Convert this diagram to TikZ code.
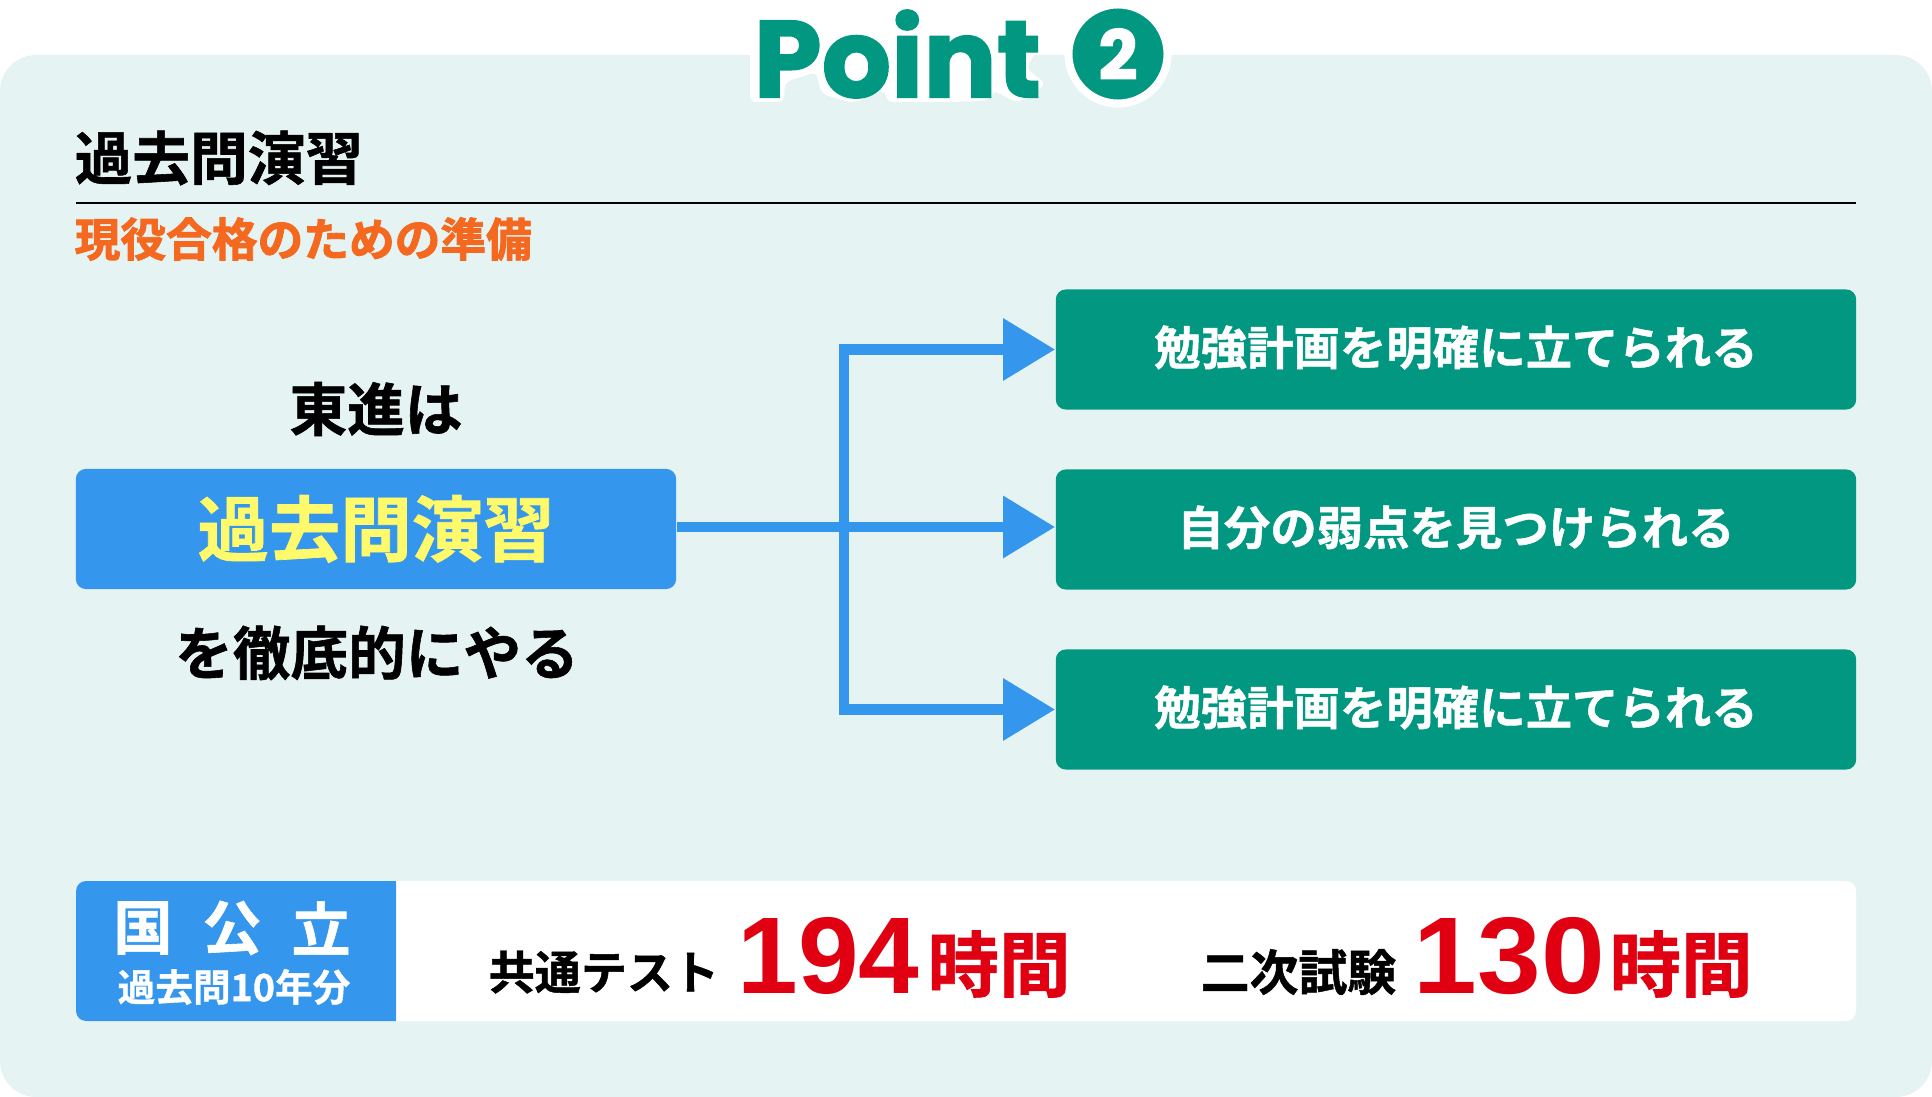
\documentclass[tikz,border=0pt]{standalone}
\usepackage{fontspec}
\usepackage{tikz}
\usetikzlibrary{arrows.meta}
\setmainfont{Noto Sans CJK JP}[BoldFont=* Bold]
\newfontfamily\cjkbold{Noto Sans CJK JP Bold}[FakeBold=1]
\newfontfamily\cjkheavy{Noto Sans CJK JP Bold}[FakeBold=2]
\newfontfamily\numfont{Liberation Sans Bold}
\newfontfamily\pointfont{Poppins Bold}[FakeBold=1.5]
\definecolor{panelbg}{HTML}{E5F4F3}
\definecolor{goalgreen}{HTML}{029780}
\definecolor{lineblue}{HTML}{3496EC}
\definecolor{hourred}{HTML}{E00012}
\definecolor{subjorange}{HTML}{F4691F}
\definecolor{textyellow}{HTML}{FFF96C}
\tikzset{
	goalbox/.style={fill=goalgreen, rounded corners=0.1cm, minimum width=8cm, minimum height=1.2cm, inner sep=0pt, text height=0.5cm, text depth=0.19cm, text=white, font=\cjkbold\fontsize{13.2}{15}\selectfont},
	linkline/.style={draw=lineblue, line width=0.1cm, -{Triangle[length=0.52cm,width=0.6cm]}},
	headtext/.style={inner sep=0pt, font=\cjkbold\fontsize{16.4}{18}\selectfont},
	hournum/.style={inner sep=0pt, text=hourred, font=\numfont\fontsize{31}{33}\selectfont},
	hourunit/.style={inner sep=0pt, text=hourred, font=\cjkbold\fontsize{20.3}{22}\selectfont},
	examname/.style={inner sep=0pt, font=\cjkbold\fontsize{13.1}{15}\selectfont},
	kokkochar/.style={inner sep=0pt, text=white, font=\cjkbold\fontsize{16.8}{18}\selectfont},
}
\begin{document}
\begin{tikzpicture}[x=0.01cm,y=-0.01cm]
	\useasboundingbox (0,0) rectangle (1932,1097);
	% 背景面板
	\fill[panelbg, rounded corners=0.36cm] (0,55) rectangle (1932,1097);

	% 标题
	\fill[white, rounded corners=0.06cm] (750,50) -- (750,102) -- (784,102) -- (785,82) -- (816,72) -- (822,94) -- (853,103) -- (885,90) -- (887,102) -- (920,102) -- (955,102) -- (990,100) -- (993,90) -- (1017,103) -- (1046,84) -- (1026,68) -- (1037,50) -- cycle;
	\node[inner sep=0pt, anchor=west, text=goalgreen, font=\pointfont\fontsize{31}{34}\selectfont] (pointword) at (753,54) {Point};
	\node[circle, fill=goalgreen, draw=white, line width=0.08cm, minimum size=0.99cm, inner sep=0pt, text=white, font=\pointfont\fontsize{19.5}{22}\selectfont] (pointnum) at (1118,54) {2};

	% 小标题
	\node[headtext, anchor=west] (heading) at (74,158) {過去問演習};
	\coordinate (ruleleft) at (76,203);
	\coordinate (ruleright) at (1856,203);
	\draw[line width=0.015cm] (ruleleft) -- (ruleright);
	\node[anchor=west, inner sep=0pt, text=subjorange, font=\cjkheavy\fontsize{13}{15}\selectfont] (subhead) at (74,239) {現役合格のための準備};

	% 左侧
	\node[headtext] (toshin) at (376,409) {東進は};
	\node[fill=lineblue, rounded corners=0.1cm, minimum width=6cm, minimum height=1.2cm, inner sep=0pt, text=textyellow, font=\cjkbold\fontsize{20.3}{23}\selectfont] (source) at (376,529) {過去問演習};
	\node[headtext] (tettei) at (377,653) {を徹底的にやる};

	% 右侧
	\node[goalbox] (goaltop) at (1456,349.5) {勉強計画を明確に立てられる};
	\node[goalbox] (goalmid) at (1456,529.5) {自分の弱点を見つけられる};
	\node[goalbox] (goalbot) at (1456,709.5) {勉強計画を明確に立てられる};

	% 箭头
	\coordinate (branch) at (844,527);
	\draw[linkline] (source.east |- branch) -- (goalmid.west |- branch);
	\draw[linkline] (branch) |- (goaltop.west);
	\draw[linkline] (branch) |- (goalbot.west);

	% 底部
	\fill[white, rounded corners=0.1cm] (76,881) rectangle (1856,1021);
	\fill[lineblue] (396,881) [rounded corners=0.1cm] -- (76,881) -- (76,1021) [sharp corners] -- (396,1021) -- cycle;
	\node[kokkochar] (kokkoa) at (143,928) {国};
	\node[kokkochar] (kokkob) at (232,928) {公};
	\node[kokkochar] (kokkoc) at (321,928) {立};
	\node[inner sep=0pt, text=white, font=\cjkbold\fontsize{10.7}{12}\selectfont] (tenyear) at (234,987) {過去問10年分};

	\node[examname, anchor=west] (kyotsu) at (488,972) {共通テスト};
	\node[hournum, anchor=west] (kyotsunum) at (737,956) {194};
	\node[hourunit, anchor=west] (kyotsuunit) at (927,964) {時間};
	\node[examname, anchor=west, font=\cjkbold\fontsize{13.9}{15}\selectfont] (niji) at (1200,972) {二次試験};
	\node[hournum, anchor=west, xscale=1.05] (nijinum) at (1413,956) {130};
	\node[hourunit, anchor=west] (nijiunit) at (1609,964) {時間};
\end{tikzpicture}
\end{document}
